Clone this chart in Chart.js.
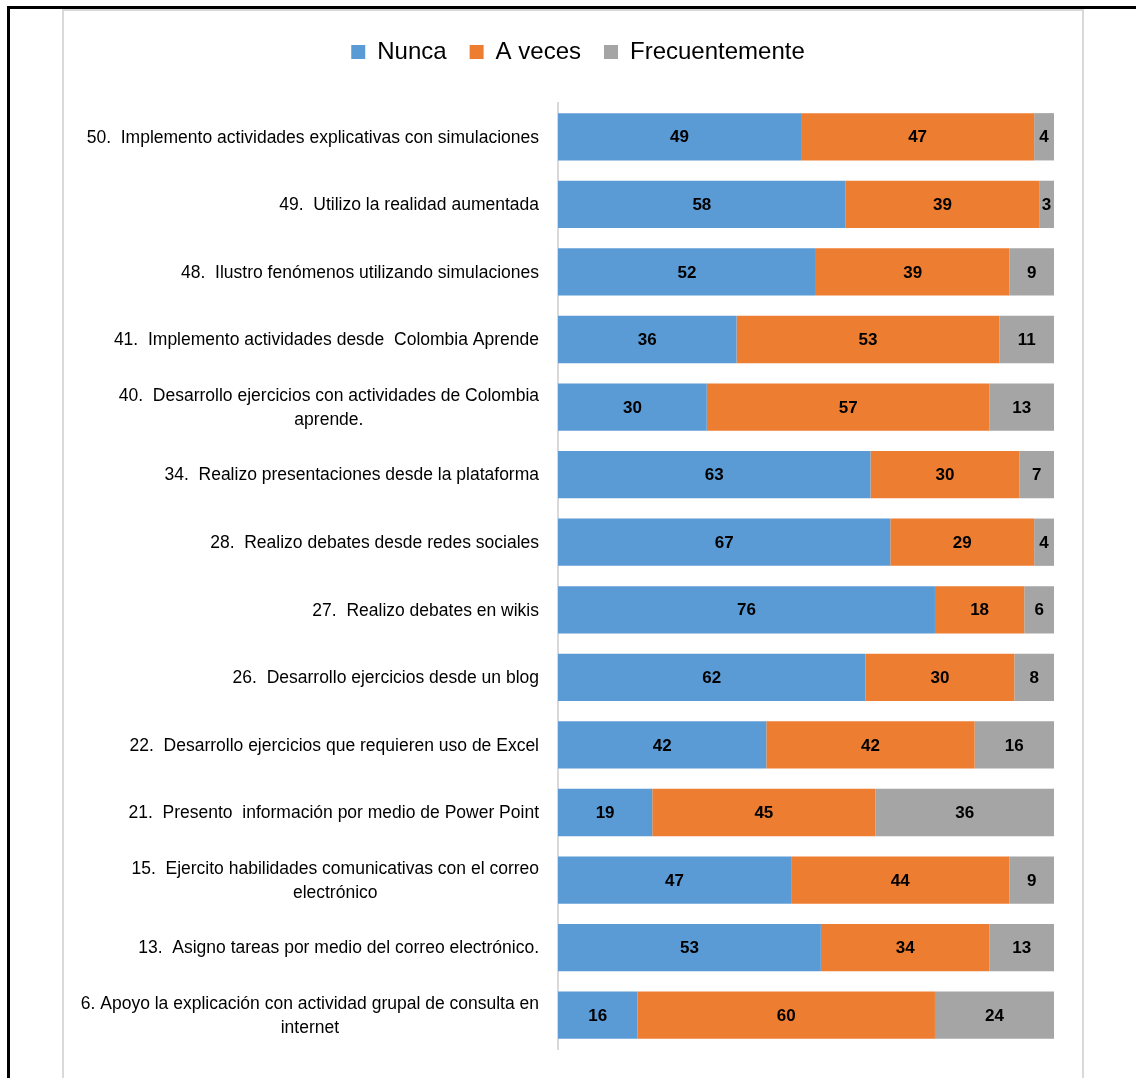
<!DOCTYPE html>
<html>
<head>
<meta charset="utf-8">
<script src="https://cdn.jsdelivr.net/npm/chart.js@4.4.1/dist/chart.umd.min.js"></script>
<style>
  html, body { margin: 0; padding: 0; background: #fff; }
  body { width: 1136px; height: 1078px; position: relative; overflow: hidden; }
  .outer { position: absolute; left: 7px; top: 6px; right: -4px; bottom: -4px; border-top: 3px solid #000; border-left: 3px solid #000; }
  .inner { position: absolute; left: 62px; top: 9px; width: 1018px; bottom: -4px; border: 2px solid #d9d9d9; border-bottom: none; }
  canvas { position: absolute; left: 0; top: 0; }
</style>
</head>
<body>
<div class="outer"></div>
<div class="inner"></div>
<canvas id="chart" width="1136" height="1078"></canvas>
<script>
const categories = [
  '50.  Implemento actividades explicativas con simulaciones',
  '49.  Utilizo la realidad aumentada',
  '48.  Ilustro fenómenos utilizando simulaciones',
  '41.  Implemento actividades desde  Colombia Aprende',
  ['40.  Desarrollo ejercicios con actividades de Colombia', 'aprende.'],
  '34.  Realizo presentaciones desde la plataforma',
  '28.  Realizo debates desde redes sociales',
  '27.  Realizo debates en wikis',
  '26.  Desarrollo ejercicios desde un blog',
  '22.  Desarrollo ejercicios que requieren uso de Excel',
  '21.  Presento  información por medio de Power Point',
  ['15.  Ejercito habilidades comunicativas con el correo', 'electrónico'],
  '13.  Asigno tareas por medio del correo electrónico.',
  ['6. Apoyo la explicación con actividad grupal de consulta en', 'internet']
];
const nunca = [49, 58, 52, 36, 30, 63, 67, 76, 62, 42, 19, 47, 53, 16];
const aVeces = [47, 39, 39, 53, 57, 30, 29, 18, 30, 42, 45, 44, 34, 60];
const frecuentemente = [4, 3, 9, 11, 13, 7, 4, 6, 8, 16, 36, 9, 13, 24];

// numbers inside the bars
const barLabels = {
  id: 'barLabels',
  afterDatasetsDraw(chart) {
    const ctx = chart.ctx;
    ctx.save();
    ctx.font = 'bold 17px "Liberation Sans Narrow", "Arial Narrow", "Liberation Sans", sans-serif';
    ctx.fillStyle = '#000';
    ctx.textAlign = 'center';
    ctx.textBaseline = 'middle';
    chart.data.datasets.forEach((ds, i) => {
      chart.getDatasetMeta(i).data.forEach((bar, j) => {
        ctx.fillText(ds.data[j], (bar.x + bar.base) / 2, bar.y + 1);
      });
    });
    ctx.restore();
  }
};

// category labels, block right aligned, lines centred in the block
const catLabels = {
  id: 'catLabels',
  afterDraw(chart) {
    const ctx = chart.ctx;
    const yScale = chart.scales.y;
    const right = chart.chartArea.left - 19;
    const lh = 24;
    ctx.save();
    ctx.font = '17.5px "Liberation Sans", Arial, sans-serif';
    ctx.fillStyle = '#000';
    ctx.textAlign = 'center';
    ctx.textBaseline = 'middle';
    chart.data.labels.forEach((lab, i) => {
      const lines = Array.isArray(lab) ? lab : [lab];
      const w = Math.max(...lines.map(l => ctx.measureText(l).width));
      const cx = right - w / 2;
      const y0 = yScale.getPixelForValue(i) + 1 - (lines.length - 1) * lh / 2;
      lines.forEach((l, k) => ctx.fillText(l, cx, y0 + k * lh));
    });
    ctx.restore();
  }
};

new Chart(document.getElementById('chart'), {
  type: 'bar',
  data: {
    labels: categories,
    datasets: [
      { label: 'Nunca', data: nunca, backgroundColor: '#5b9bd5' },
      { label: 'A veces', data: aVeces, backgroundColor: '#ed7d31' },
      { label: 'Frecuentemente', data: frecuentemente, backgroundColor: '#a5a5a5' }
    ]
  },
  options: {
    indexAxis: 'y',
    responsive: false,
    animation: false,
    datasets: { bar: { categoryPercentage: 1, barPercentage: 0.7 } },
    layout: { padding: { left: 102, right: 82, top: 17, bottom: 29 } },
    plugins: {
      legend: {
        position: 'top',
        labels: {
          boxWidth: 14,
          boxHeight: 14,
          padding: 23,
          color: '#000',
          font: { family: '"Liberation Sans", Arial, sans-serif', size: 24 }
        }
      },
      tooltip: { enabled: false }
    },
    scales: {
      x: {
        stacked: true,
        min: 0,
        max: 100,
        position: 'top',
        ticks: { display: false },
        grid: { display: false },
        border: { display: false },
        afterFit(s) { s.height = 29; }
      },
      y: {
        stacked: true,
        ticks: { display: false },
        grid: { display: false },
        border: { color: '#d9d9d9', width: 2 },
        afterFit(s) { s.width = 456; }
      }
    }
  },
  plugins: [barLabels, catLabels]
});
</script>
</body>
</html>
